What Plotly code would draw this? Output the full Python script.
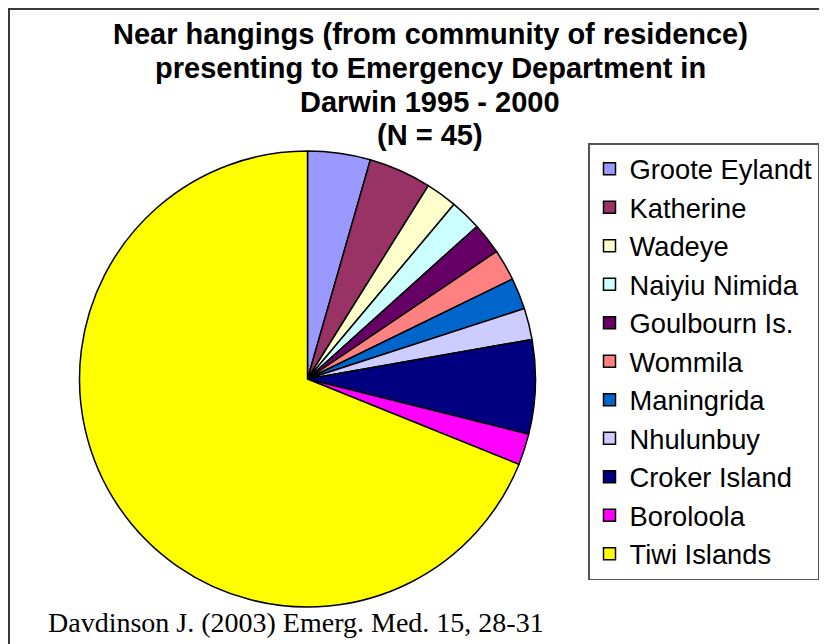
import plotly.graph_objects as go

# ---- data ----
communities = ["Groote Eylandt", "Katherine", "Wadeye", "Naiyiu Nimida", "Goulbourn Is.",
               "Wommila", "Maningrida", "Nhulunbuy", "Croker Island", "Boroloola", "Tiwi Islands"]
cases = [2, 2, 1, 1, 1, 1, 1, 1, 3, 1, 31]
slice_colors = ["#9999FF", "#993366", "#FFFFCC", "#CCFFFF", "#660066", "#FF8080",
                "#0066CC", "#CCCCFF", "#000080", "#FF00FF", "#FFFF00"]
title_lines = ["Near hangings (from community of residence)",
               "presenting to Emergency Department in",
               "Darwin 1995 - 2000",
               "(N = 45)"]
source_note = "Davdinson J. (2003) Emerg. Med. 15, 28-31"

W, H = 827, 644
OFF = 8  # page body margin offset
cx, cy, R = 307.5 - OFF, 379 - OFF, 228

def px_y(y):
    return 1 - y / H

fig = go.Figure(go.Pie(
    labels=communities,
    values=cases,
    sort=False,
    direction="clockwise",
    rotation=0,
    textinfo="none",
    marker=dict(colors=slice_colors, line=dict(color="#000000", width=1.5)),
    domain=dict(x=[(cx - R) / W, (cx + R) / W], y=[px_y(cy + R), px_y(cy - R)]),
    hoverinfo="label+value+percent",
))

title_font = dict(family="Liberation Sans, Arial, sans-serif", size=29, color="#000")
title_y = [26, 60, 94, 127]
annotations = [
    dict(text="<b>" + line + "</b>", xref="paper", yref="paper",
         x=(430 - OFF) / W, y=px_y(yy), xanchor="center", yanchor="middle",
         showarrow=False, font=title_font)
    for line, yy in zip(title_lines, title_y)
]
annotations.append(
    dict(text=source_note, xref="paper", yref="paper",
         x=(46 - OFF) / W, y=px_y(622 - OFF), xanchor="left", yanchor="middle", showarrow=False,
         font=dict(family="Liberation Serif, Times New Roman, serif", size=28, color="#000")))

fig.update_layout(
    width=W, height=H,
    margin=dict(l=0, r=0, t=0, b=0, autoexpand=False),
    paper_bgcolor="white", plot_bgcolor="white",
    legend=dict(
        x=(588 - OFF) / W, y=px_y(143 - OFF), xanchor="left", yanchor="top",
        bordercolor="#555555", borderwidth=1.5, bgcolor="white",
        font=dict(family="Liberation Sans, Arial, sans-serif", size=27.3, color="#000"),
        tracegroupgap=0,
    ),
    showlegend=True,
    shapes=[dict(type="rect", xref="paper", yref="paper",
                 x0=1 / W, x1=1.05, y0=-0.05, y1=px_y(1),
                 line=dict(color="#3a3a3a", width=2), layer="below")],
    annotations=annotations,
)

fig.write_html("out.html")
